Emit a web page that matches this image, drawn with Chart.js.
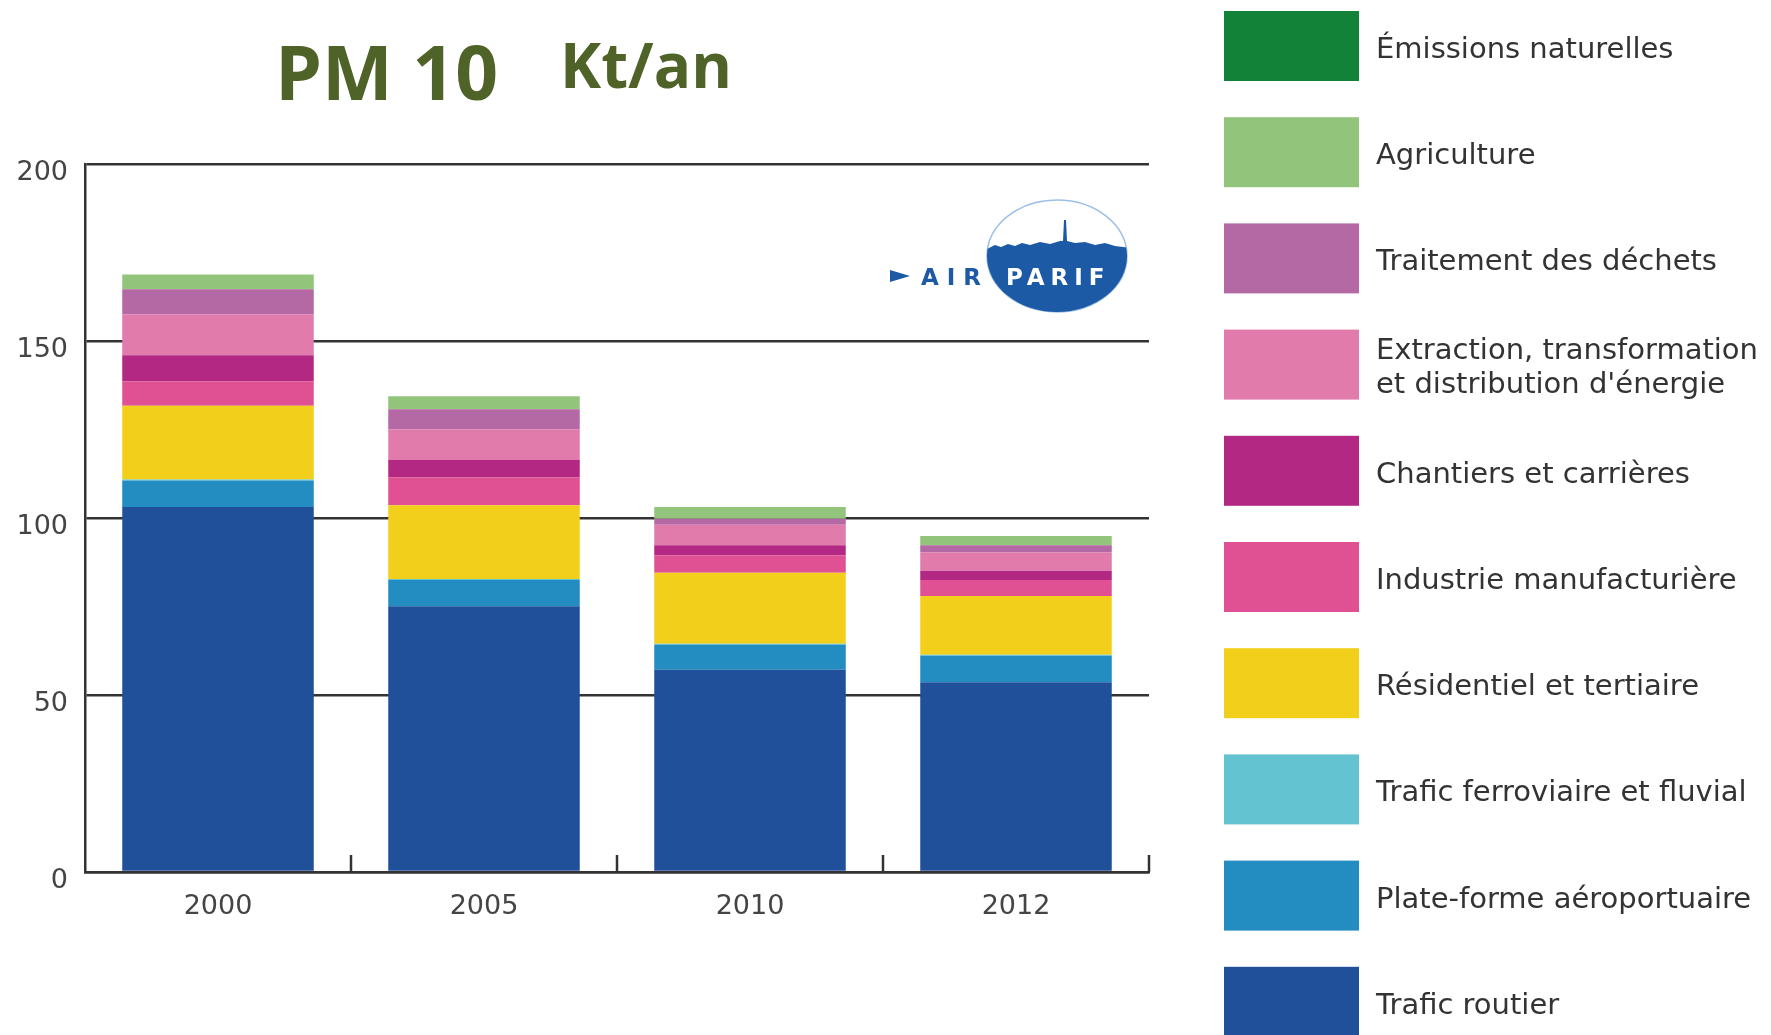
<!DOCTYPE html>
<html>
<head>
<meta charset="utf-8">
<script src="https://cdn.jsdelivr.net/npm/chart.js@4"></script>
<style>
  body { margin: 0; background: #fff; }
  #wrap { position: relative; width: 1771px; height: 1035px; }
  #logo { position: absolute; left: 0; top: 0; pointer-events: none; }
</style>
</head>
<body>
<div id="wrap">
  <canvas id="chart" width="1771" height="1035"></canvas>
  <svg id="logo" width="1771" height="1035">
    <defs>
      <clipPath id="oval"><ellipse cx="1057" cy="256" rx="70" ry="56"/></clipPath>
    </defs>
    <ellipse cx="1057" cy="256" rx="70" ry="56" fill="none" stroke="#9cc0e6" stroke-width="1.5"/>
    <path clip-path="url(#oval)" fill="#1c5aa6"
      d="M985 250 L995 245 L1001 247 L1008 244 L1015 246 L1022 243 L1030 245 L1040 242 L1050 244 L1060 241 L1063 241 L1064 220 L1066 220 L1067 241 L1075 243 L1085 242 L1095 245 L1105 243 L1115 246 L1130 248 L1130 320 L985 320 Z"/>
    <polygon points="890,270 910,276 890,282" fill="#1c5aa6"/>
    <text x="921" y="285" font-family="DejaVu Sans" font-weight="bold" font-size="23" letter-spacing="8" fill="#1c5aa6">AIR</text>
    <text x="1006" y="285" font-family="DejaVu Sans" font-weight="bold" font-size="23" letter-spacing="6" fill="#ffffff">PARIF</text>
  </svg>
</div>
<script>
const years = ["2000", "2005", "2010", "2012"];

const seriesNames = [
  "Trafic routier",
  "Plate-forme aéroportuaire",
  "Trafic ferroviaire et fluvial",
  "Résidentiel et tertiaire",
  "Industrie manufacturière",
  "Chantiers et carrières",
  "Extraction, transformation\net distribution d'énergie",
  "Traitement des déchets",
  "Agriculture",
  "Émissions naturelles",
];

const seriesColors = [
  "#21509b", "#238dc1", "#64c3d1", "#f2cf1b", "#df5192",
  "#b32883", "#e07bab", "#b569a4", "#93c47b", "#128238",
];

// Kt/an
const traficRoutier = [103.1, 75.1, 57.1, 53.6];
const aeroport = [7.5, 7.4, 7.1, 7.5];
const ferroviaire = [0.3, 0.3, 0.3, 0.3];
const residentiel = [20.8, 20.8, 20.0, 16.6];
const industrie = [6.9, 7.9, 5.0, 4.5];
const chantiers = [7.4, 4.9, 2.8, 2.6];
const extraction = [11.5, 8.7, 5.8, 5.2];
const dechets = [7.1, 5.6, 1.7, 2.0];
const agriculture = [4.2, 3.7, 3.3, 2.6];
const naturelles = [0, 0, 0, 0];

const yTicks = [0, 50, 100, 150, 200];

const seriesValues = [
  traficRoutier, aeroport, ferroviaire, residentiel, industrie,
  chantiers, extraction, dechets, agriculture, naturelles,
];

const axisColor = "#333";

// title, legend and the inward x tick marks
const decorPlugin = {
  id: "decor",
  afterDraw(chart) {
    const ctx = chart.ctx;
    ctx.save();

    ctx.fillStyle = "#4f6228";
    ctx.textBaseline = "alphabetic";
    ctx.font = 'bold 75px "Open Sans"';
    ctx.fillText("PM 10", 275, 100);
    ctx.font = 'bold 62px "Open Sans"';
    ctx.fillText("Kt/an", 560, 88);

    const xs = chart.scales.x;
    const half = (xs.getPixelForTick(1) - xs.getPixelForTick(0)) / 2;
    ctx.strokeStyle = axisColor;
    ctx.lineWidth = 2.5;
    years.forEach((y, i) => {
      const x = Math.round(xs.getPixelForTick(i) + half);
      ctx.beginPath();
      ctx.moveTo(x, xs.top);
      ctx.lineTo(x, xs.top - 17);
      ctx.stroke();
    });

    ctx.font = '29px "DejaVu Sans"';
    for (let i = 0; i < seriesNames.length; i++) {
      const k = seriesNames.length - 1 - i;
      const top = 11 + i * 106.2;
      ctx.fillStyle = seriesColors[k];
      ctx.fillRect(1224, top, 135, 70);
      ctx.fillStyle = "#333";
      const lines = seriesNames[k].split("\n");
      if (lines.length === 1) {
        ctx.fillText(lines[0], 1376, top + 47);
      } else {
        ctx.fillText(lines[0], 1376, top + 29);
        ctx.fillText(lines[1], 1376, top + 63);
      }
    }
    ctx.restore();
  },
};

new Chart(document.getElementById("chart").getContext("2d"), {
  type: "bar",
  data: {
    labels: years,
    datasets: seriesNames.map((name, i) => ({
      label: name,
      data: seriesValues[i],
      backgroundColor: seriesColors[i],
      borderWidth: 0,
      barPercentage: 0.72,
      categoryPercentage: 1,
    })),
  },
  options: {
    responsive: false,
    animation: false,
    layout: { padding: { top: 164, left: 0, right: 622, bottom: 83 } },
    plugins: {
      legend: { display: false },
      tooltip: { enabled: false },
    },
    scales: {
      x: {
        stacked: true,
        afterFit: (s) => { s.height = 80; },
        grid: { display: false },
        border: { display: true, color: axisColor, width: 2.5 },
        ticks: {
          color: "#444",
          font: { family: "DejaVu Sans", size: 27 },
          padding: 11,
        },
      },
      y: {
        stacked: true,
        min: 0,
        max: 200,
        afterFit: (s) => { s.width = 85; },
        afterBuildTicks: (s) => { s.ticks = yTicks.map((v) => ({ value: v })); },
        grid: { color: axisColor, lineWidth: 2.5, drawTicks: false },
        border: { display: true, color: axisColor, width: 2.5 },
        ticks: {
          color: "#444",
          font: { family: "DejaVu Sans", size: 27 },
          padding: 17,
          labelOffset: 9,
        },
      },
    },
  },
  plugins: [decorPlugin],
});
</script>
</body>
</html>
